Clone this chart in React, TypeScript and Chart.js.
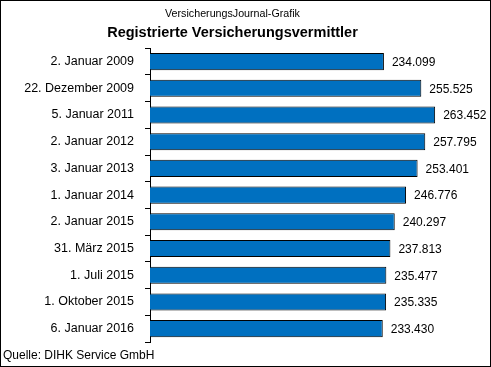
import React, { useEffect, useRef } from "react";
import { Chart, registerables } from "chart.js";

Chart.register(...registerables);

const categories = [
  "2. Januar 2009",
  "22. Dezember 2009",
  "5. Januar 2011",
  "2. Januar 2012",
  "3. Januar 2013",
  "1. Januar 2014",
  "2. Januar 2015",
  "31. März 2015",
  "1. Juli 2015",
  "1. Oktober 2015",
  "6. Januar 2016",
];

const vermittler = [
  234099, 255525, 263452, 257795, 253401, 246776, 240297, 237813, 235477, 235335, 233430,
];

const topTitle = "VersicherungsJournal-Grafik";
const mainTitle = "Registrierte Versicherungsvermittler";
const sourceText = "Quelle: DIHK Service GmbH";

const FONT = "'Liberation Sans', Arial, sans-serif";

function fmt(v: number): string {
  const s = String(Math.round(v));
  return s.replace(/\B(?=(\d{3})+(?!\d))/g, ".");
}

const labelPlugin = {
  id: "valueLabels",
  afterDatasetsDraw(chart: any) {
    const ctx = chart.ctx;
    const meta = chart.getDatasetMeta(0);
    ctx.save();
    ctx.font = `12px ${FONT}`;
    ctx.fillStyle = "#000";
    ctx.textAlign = "left";
    ctx.textBaseline = "middle";
    meta.data.forEach((bar: any, i: number) => {
      ctx.fillText(fmt(vermittler[i]), bar.x + 8, bar.y + 1);
    });
    ctx.font = `12px ${FONT}`;
    ctx.fillText(sourceText, 2, chart.height - 10);
    ctx.restore();
  },
};

export default function App() {
  const ref = useRef<HTMLCanvasElement | null>(null);
  useEffect(() => {
    document.body.style.margin = "0";
    if (!ref.current) return;
    const chart = new Chart(ref.current, {
      type: "bar",
      data: {
        labels: categories,
        datasets: [
          {
            data: vermittler,
            backgroundColor: "#0070C0",
            borderColor: "#000000",
            borderWidth: 1,
            borderSkipped: false,
            categoryPercentage: 1,
            barPercentage: 0.64,
          },
        ],
      },
      options: {
        indexAxis: "y",
        animation: false,
        responsive: false,
        maintainAspectRatio: false,
        layout: { padding: { left: 0, right: 26, top: 0, bottom: 24 } },
        plugins: {
          legend: { display: false },
          tooltip: { enabled: false },
          title: {
            display: true,
            text: topTitle,
            color: "#000",
            font: { family: FONT, size: 10.7, weight: "normal" },
            padding: { top: 7, bottom: 3 },
          },
          subtitle: {
            display: true,
            text: mainTitle,
            color: "#000",
            font: { family: FONT, size: 14.5, weight: "bold" },
            padding: { top: 0, bottom: 7 },
          },
        },
        scales: {
          x: {
            display: false,
            min: 100000,
            max: 280000,
          },
          y: {
            afterFit: (scale: any) => {
              scale.width = 149;
            },
            border: { display: true, color: "#000", width: 1 },
            grid: {
              display: true,
              drawOnChartArea: false,
              drawTicks: true,
              tickLength: 5,
              color: "#000",
              offset: true,
            },
            ticks: {
              color: "#000",
              padding: 11,
              font: { family: FONT, size: 12.5 },
            },
          },
        },
      },
      plugins: [labelPlugin],
    } as any);
    return () => chart.destroy();
  }, []);
  return (
    <div
      style={{
        position: "absolute",
        left: 0,
        top: 0,
        width: 491,
        height: 367,
        boxSizing: "border-box",
        border: "1px solid #000",
        background: "#fff",
      }}
    >
      <canvas ref={ref} width={489} height={365} style={{ display: "block", width: 489, height: 365 }} />
    </div>
  );
}
